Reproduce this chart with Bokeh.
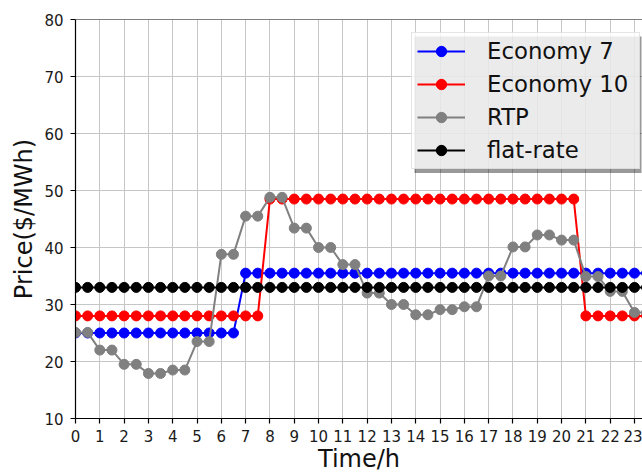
from bokeh.plotting import figure
from bokeh.models import (Range1d, FixedTicker, Legend, LegendItem,
                          BoxAnnotation, Span)
from bokeh.embed import file_html
from bokeh.resources import INLINE

# Half-hourly time steps over one day
hours = [0, 0.5, 1, 1.5, 2, 2.5, 3, 3.5, 4, 4.5, 5, 5.5,
         6, 6.5, 7, 7.5, 8, 8.5, 9, 9.5, 10, 10.5, 11, 11.5,
         12, 12.5, 13, 13.5, 14, 14.5, 15, 15.5, 16, 16.5, 17, 17.5,
         18, 18.5, 19, 19.5, 20, 20.5, 21, 21.5, 22, 22.5, 23, 23.5]

# Tariffs in $/MWh
economy7 = [25, 25, 25, 25, 25, 25, 25, 25, 25, 25, 25, 25,
            25, 25, 35.5, 35.5, 35.5, 35.5, 35.5, 35.5, 35.5, 35.5, 35.5, 35.5,
            35.5, 35.5, 35.5, 35.5, 35.5, 35.5, 35.5, 35.5, 35.5, 35.5, 35.5, 35.5,
            35.5, 35.5, 35.5, 35.5, 35.5, 35.5, 35.5, 35.5, 35.5, 35.5, 35.5, 35.5]

economy10 = [28, 28, 28, 28, 28, 28, 28, 28, 28, 28, 28, 28,
             28, 28, 28, 28, 48.5, 48.5, 48.5, 48.5, 48.5, 48.5, 48.5, 48.5,
             48.5, 48.5, 48.5, 48.5, 48.5, 48.5, 48.5, 48.5, 48.5, 48.5, 48.5, 48.5,
             48.5, 48.5, 48.5, 48.5, 48.5, 48.5, 28, 28, 28, 28, 28, 28]

rtp = [25.1, 25.1, 22.0, 22.0, 19.5, 19.5, 17.9, 17.9, 18.5, 18.5, 23.5, 23.5,
       38.8, 38.8, 45.5, 45.5, 48.8, 48.8, 43.4, 43.4, 40.0, 40.0, 37.0, 37.0,
       32.0, 32.0, 30.0, 30.0, 28.2, 28.2, 29.1, 29.1, 29.6, 29.6, 35.0, 35.0,
       40.1, 40.1, 42.2, 42.2, 41.3, 41.3, 34.9, 34.9, 32.3, 32.3, 28.6, 28.6]

flat_rate = [33] * 48

x_ticks = list(range(24))
y_ticks = [10, 20, 30, 40, 50, 60, 70, 80]

series = [
    ("Economy 7", economy7, "#0000ff"),
    ("Economy 10", economy10, "#ff0000"),
    ("RTP", rtp, "#808080"),
    ("flat-rate", flat_rate, "#000000"),
]

FONT = "DejaVu Sans"
X0, X1 = 0, 23.33
Y0, Y1 = 10, 80

p = figure(width=642, height=475, output_backend="svg", toolbar_location=None,
           x_range=Range1d(X0, X1), y_range=Range1d(Y0, Y1),
           min_border_left=75, min_border_right=0,
           min_border_top=19, min_border_bottom=56)
p.outline_line_color = None
p.background_fill_color = "white"
p.border_fill_color = "white"

# grid
p.xgrid.ticker = FixedTicker(ticks=x_ticks)
p.ygrid.ticker = FixedTicker(ticks=y_ticks)
for g in (p.xgrid, p.ygrid):
    g.grid_line_color = "#c6c6c6"
    g.grid_line_width = 1

# axes
for ax in (p.xaxis, p.yaxis):
    ax.axis_line_color = "black"
    ax.axis_line_width = 1.2
    ax.major_tick_line_color = "black"
    ax.major_tick_line_width = 1.2
    ax.major_tick_out = 5
    ax.major_tick_in = 0
    ax.minor_tick_line_color = None
    ax.major_label_text_font = FONT
    ax.major_label_text_font_size = "15px"
    ax.major_label_text_color = "#1a1a1a"
    ax.axis_label_text_font = FONT
    ax.axis_label_text_font_size = "24px"
    ax.axis_label_text_font_style = "normal"
    ax.axis_label_text_color = "#111111"

p.xaxis.ticker = FixedTicker(ticks=x_ticks)
p.yaxis.ticker = FixedTicker(ticks=y_ticks)
p.xaxis.axis_label = "Time/h"
p.yaxis.axis_label = "Price($/MWh)"
p.xaxis.major_label_standoff = 6
p.yaxis.major_label_standoff = 7
p.xaxis.axis_label_standoff = 0
p.yaxis.axis_label_standoff = 3

# top spine
p.add_layout(Span(location=Y1, dimension="width", line_color="black", line_width=1.2))

items = []
for name, vals, col in series:
    ln = p.line(hours, vals, line_color=col, line_width=2)
    pt = p.scatter(hours, vals, size=10, fill_color=col, line_color=col)
    items.append(LegendItem(label=name, renderers=[ln, pt]))

# legend drop shadow, placed in data units from the frame geometry
fx0, fy0, fw, fh = 75, 19, 567, 400
def to_x(px):
    return X0 + (px - fx0) / fw * (X1 - X0)
def to_y(py):
    return Y1 - (py - fy0) / fh * (Y1 - Y0)

shadow = BoxAnnotation(left=to_x(414), right=to_x(641), top=to_y(36), bottom=to_y(173),
                       fill_color="black", fill_alpha=0.4, line_color=None,
                       level="annotation")
p.add_layout(shadow)

legend = Legend(items=items, location=(336, 249))
legend.label_text_font = FONT
legend.label_text_font_size = "22.8px"
legend.label_text_color = "#111111"
legend.glyph_width = 48
legend.glyph_height = 26
legend.label_height = 26
legend.label_width = 147
legend.label_standoff = 22
legend.spacing = 7
legend.padding = 5
legend.margin = 0
legend.background_fill_color = "white"
legend.background_fill_alpha = 0.8
legend.border_line_color = "#cccccc"
legend.border_line_width = 1
p.add_layout(legend)

open("out.html", "w").write(file_html(p, INLINE))
